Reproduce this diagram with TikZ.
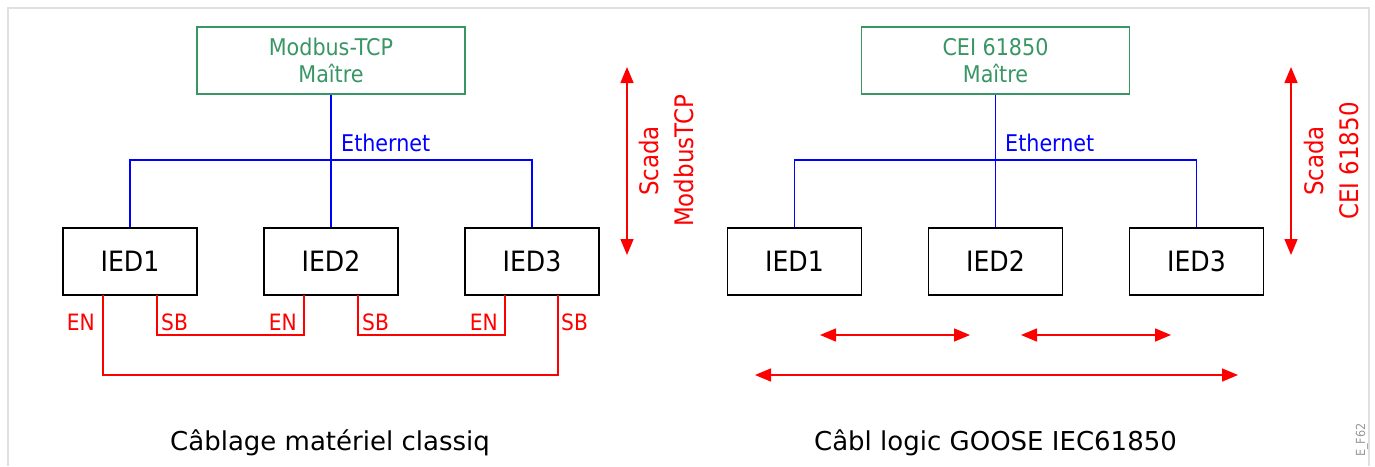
\documentclass[tikz,border=0pt]{standalone}
\usepackage{fontspec}
\setmainfont{DejaVu Sans Condensed}
\newfontfamily\capfont{DejaVu Sans}
\usetikzlibrary{arrows.meta}
\definecolor{mgreen}{RGB}{56,150,100}
\definecolor{eblue}{RGB}{0,0,255}
\definecolor{wred}{RGB}{255,0,0}
\begin{document}
\begin{tikzpicture}[x=1pt,y=-1pt,
  master/.style={draw=mgreen,line width=1.3pt,minimum width=268pt,minimum height=67pt,inner sep=0pt,text=mgreen,align=center,font=\fontsize{23}{27}\selectfont},
  ied/.style={draw=black,line width=1.3pt,minimum width=134pt,minimum height=67pt,inner sep=0pt,font=\fontsize{28}{32}\selectfont},
  eth/.style={draw=eblue,line width=1.3pt},
  wire/.style={draw=wred,line width=1.3pt},
  lbl/.style={text=wred,font=\fontsize{22.5}{26}\selectfont,inner sep=0pt},
  ethl/.style={text=eblue,font=\fontsize{23}{26}\selectfont,inner sep=0pt,anchor=base west},
  dbl/.style={draw=wred,line width=1.5pt,{Triangle[length=16pt,width=13pt]}-{Triangle[length=16pt,width=13pt]}},
  vlbl/.style={text=wred,font=\fontsize{25.5}{28}\selectfont,inner sep=0pt,rotate=90},
  captxt/.style={font=\capfont\fontsize{26}{30}\selectfont,inner sep=0pt,anchor=base}]
\useasboundingbox (0,0) rectangle (1375,466);
\draw[draw=black!12,line width=1.5pt] (8,466) -- (8,8) -- (1369,8) -- (1369,466);

% ---------- left ----------
\node[master] (mL) at (331,60.5) {Modbus-TCP\\Maître};
\node[ied] (a1) at (130,261.5) {IED1};
\node[ied] (a2) at (331,261.5) {IED2};
\node[ied] (a3) at (532,261.5) {IED3};
\coordinate (bL) at (331,160);
\draw[eth] (mL.south) -- (bL);
\draw[eth] (a1.north) |- (bL) -| (a3.north);
\draw[eth] (a2.north) -- ([yshift=3pt]bL);
\node[ethl] (ethL) at (341,151.5) {Ethernet};

\coordinate (a1en) at (103,295); \coordinate (a1sb) at (157,295);
\coordinate (a2en) at (304,295); \coordinate (a2sb) at (358,295);
\coordinate (a3en) at (505,295); \coordinate (a3sb) at (558,295);
\draw[wire] (a1en) -- (103,375) -- (558,375) -- (a3sb);
\draw[wire] (a1sb) -- (157,335) -- (304,335) -- (a2en);
\draw[wire] (a2sb) -- (358,335) -- (505,335) -- (a3en);
\node[lbl,anchor=east] (l1) at (95,322) {EN};
\node[lbl,anchor=west] (l2) at (161,322) {SB};
\node[lbl,anchor=east] (l3) at (297,322) {EN};
\node[lbl,anchor=west] (l4) at (362,322) {SB};
\node[lbl,anchor=east] (l5) at (498,322) {EN};
\node[lbl,anchor=west] (l6) at (561,322) {SB};

\coordinate (sLt) at (627,67); \coordinate (sLb) at (627,255);
\draw[dbl] (sLt) -- (sLb);
\node[vlbl] (sc1) at (649,161) {Scada};
\node[vlbl] (sc2) at (684,161) {ModbusTCP};
\node[captxt] (capL) at (330,450) {Câblage matériel classiq};

% ---------- right ----------
\node[master] (mR) at (995.5,60.5) {CEI 61850\\Maître};
\node[ied] (b1) at (794.5,261.5) {IED1};
\node[ied] (b2) at (995.5,261.5) {IED2};
\node[ied] (b3) at (1196.5,261.5) {IED3};
\coordinate (bR) at (995.5,160);
\draw[eth] (mR.south) -- (bR);
\draw[eth] (b1.north) |- (bR) -| (b3.north);
\draw[eth] (b2.north) -- ([yshift=3pt]bR);
\node[ethl] (ethR) at (1005,151.5) {Ethernet};

\coordinate (g1) at (820,335); \coordinate (g2) at (970,335);
\coordinate (g3) at (1021,335); \coordinate (g4) at (1171,335);
\coordinate (g5) at (755,375); \coordinate (g6) at (1238,375);
\draw[dbl] (g1) -- (g2);
\draw[dbl] (g3) -- (g4);
\draw[dbl] (g5) -- (g6);

\coordinate (sRt) at (1291,67); \coordinate (sRb) at (1291,255);
\draw[dbl] (sRt) -- (sRb);
\node[vlbl] (sc3) at (1314,161) {Scada};
\node[vlbl] (sc4) at (1349,161) {CEI 61850};
\node[captxt] (capR) at (995.5,450) {Câbl logic GOOSE IEC61850};
\node[text=black!40,font=\fontsize{12.5}{14}\selectfont,rotate=90,inner sep=0pt] (fig) at (1362,440) {E\_F62};
\end{tikzpicture}
\end{document}
